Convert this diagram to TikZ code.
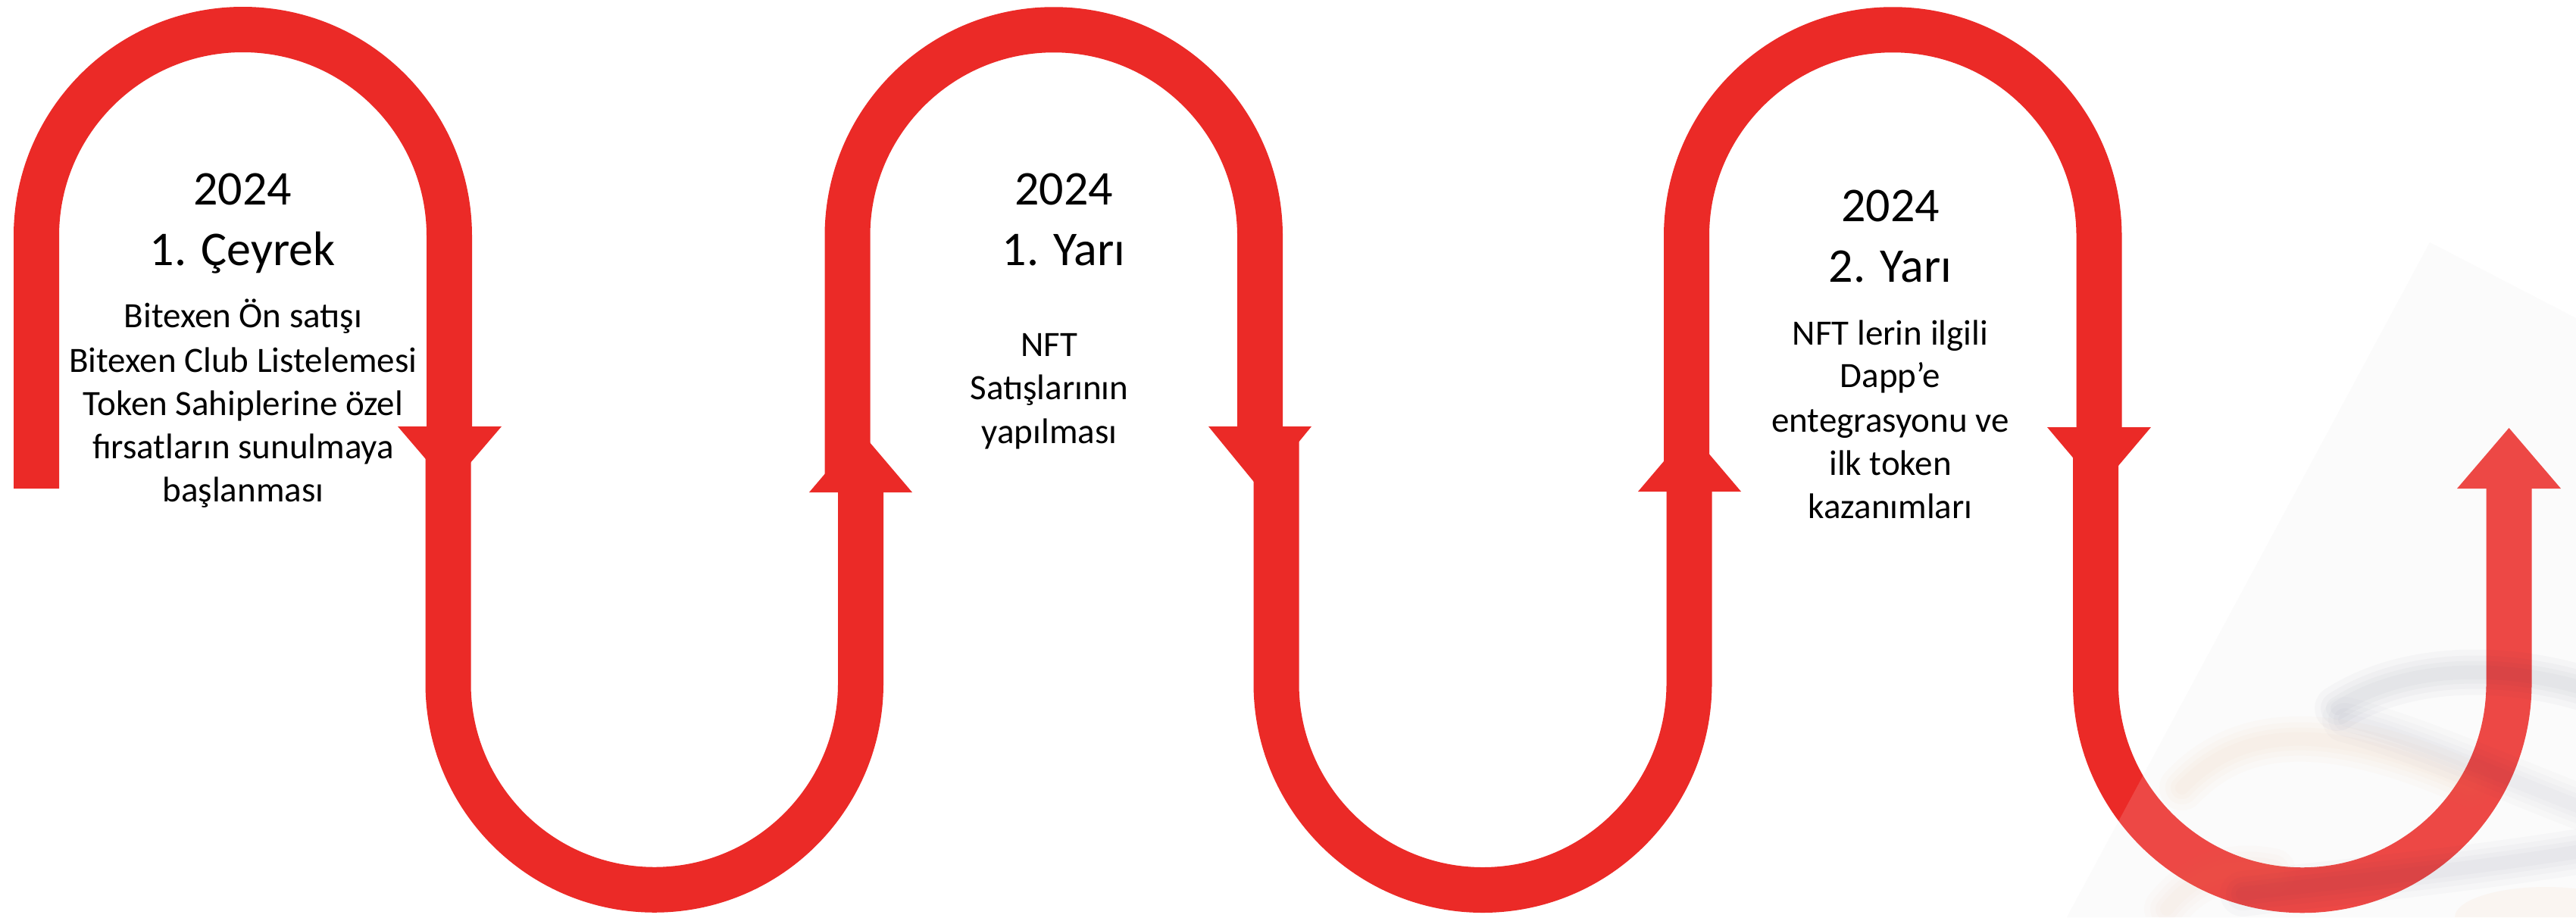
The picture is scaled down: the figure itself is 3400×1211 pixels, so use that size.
\documentclass[tikz,border=0pt]{standalone}
\usepackage{fontspec}
\setmainfont{Carlito}
\definecolor{rd}{RGB}{235,42,39}
\definecolor{wmgrey}{RGB}{55,60,95}
\definecolor{wmpeach}{RGB}{235,140,70}
\begin{document}
\begin{tikzpicture}[x=1pt,y=-1pt,line cap=butt,
  band/.style={draw=rd,line width=60pt},
  tipbox/.style={fill=rd},
  head/.style={anchor=base,inner sep=0pt,font=\fontsize{64}{78}\selectfont},
  body/.style={anchor=base,inner sep=0pt,font=\fontsize{47}{57}\selectfont},
  wm/.style={line cap=round,draw=#1}]
\useasboundingbox (0,0) rectangle (3400,1211);
\fill[white] (0,0) rectangle (3400,1211);
% faint watermark background
\coordinate (w1) at (3207,320);
\coordinate (w2) at (3400,420);
\coordinate (w3) at (3400,1211);
\coordinate (w4) at (2728,1211);
\fill[black!1.5] (w1) -- (w2) -- (w3) -- (w4) -- cycle;

% ---- serpentine band ----
\coordinate (a1) at (48,645);
\coordinate (a1t) at (48,311.5);
\draw[band] (a1) -- (a1t) arc[start angle=180,end angle=360,radius=272.5] -- (593,568);
\coordinate (b1) at (591.5,575);
\draw[band] (b1) -- (591.5,902.5) arc[start angle=180,end angle=0,radius=272.25] -- (1136,645);
\coordinate (c1) at (1118.5,640);
\draw[band] (c1) -- (1118.5,311.5) arc[start angle=180,end angle=360,radius=272.25] -- (1663,568);
\coordinate (d1) at (1684.5,575);
\draw[band] (d1) -- (1684.5,902.5) arc[start angle=180,end angle=0,radius=272.5] -- (2229.5,645);
\coordinate (e1) at (2226,640);
\draw[band] (e1) -- (2226,311.5) arc[start angle=180,end angle=360,radius=272.25] -- (2770.5,569);
\coordinate (f1) at (2766,575);
\draw[band] (f1) -- (2766,902.5) arc[start angle=180,end angle=0,radius=272.75] -- (3311.5,640);

% ---- arrowheads ----
\fill[tipbox] (525,563) -- (662,563) -- (593.5,643) -- cycle;
\fill[tipbox] (1068,650) -- (1204,650) -- (1136,570) -- cycle;
\fill[tipbox] (1595,563) -- (1731,563) -- (1663,646) -- cycle;
\fill[tipbox] (2162,649) -- (2298,649) -- (2230,569) -- cycle;
\fill[tipbox] (2702,564) -- (2839,564) -- (2770.5,645) -- cycle;
\fill[tipbox] (3243,645) -- (3380,645) -- (3311.5,565) -- cycle;

% ---- watermark overlay ----
\begin{scope}
\clip (w1) -- (w2) -- (w3) -- (w4) -- cycle;
\fill[white,opacity=0.14] (w1) -- (w2) -- (w3) -- (w4) -- cycle;
\foreach \lw in {60,44,30,18}{
  \draw[wm=wmgrey,line width=\lw pt,opacity=0.028]
    (3085,935) .. controls (3170,880) and (3300,872) .. (3430,915);
  \draw[wm=wmgrey,line width=\lw pt,opacity=0.02]
    (3095,950) .. controls (3190,975) and (3300,1025) .. (3430,1075);
  \draw[wm=wmpeach,line width=\lw pt,opacity=0.022]
    (2880,1040) .. controls (2960,955) and (3080,955) .. (3260,1035);
  \draw[wm=wmgrey,line width=\lw pt,opacity=0.025]
    (2960,1180) .. controls (3080,1165) and (3250,1150) .. (3430,1120);
  \draw[wm=wmpeach,line width=\lw pt,opacity=0.02]
    (2860,1200) .. controls (2900,1150) and (2950,1140) .. (3000,1150);
}
\fill[wmpeach,opacity=0.05] (3360,1211) ellipse[x radius=120,y radius=40];
\end{scope}

% ---- texts ----
\node[head] (h1a) at (320,270) {2024};
\node[head] (h1b) at (320,350) {1. Çeyrek};
\node[body] (t1a) at (321,432) {Bitexen Ön satışı};
\node[body] (t1b) at (321,491) {Bitexen Club Listelemesi};
\node[body] (t1c) at (321,548) {Token Sahiplerine özel};
\node[body] (t1d) at (321,605) {fırsatların sunulmaya};
\node[body] (t1e) at (321,662) {başlanması};

\node[head] (h2a) at (1404,270) {2024};
\node[head] (h2b) at (1404,350) {1. Yarı};
\node[body] (t2a) at (1385,470) {NFT};
\node[body] (t2b) at (1385,527) {Satışlarının};
\node[body] (t2c) at (1385,585) {yapılması};

\node[head] (h3a) at (2495,292) {2024};
\node[head] (h3b) at (2495,372) {2. Yarı};
\node[body] (t3a) at (2495,455) {NFT lerin ilgili};
\node[body] (t3b) at (2495,511) {Dapp’e};
\node[body] (t3c) at (2495,570) {entegrasyonu ve};
\node[body] (t3d) at (2495,627) {ilk token};
\node[body] (t3e) at (2495,684) {kazanımları};
\end{tikzpicture}
\end{document}
